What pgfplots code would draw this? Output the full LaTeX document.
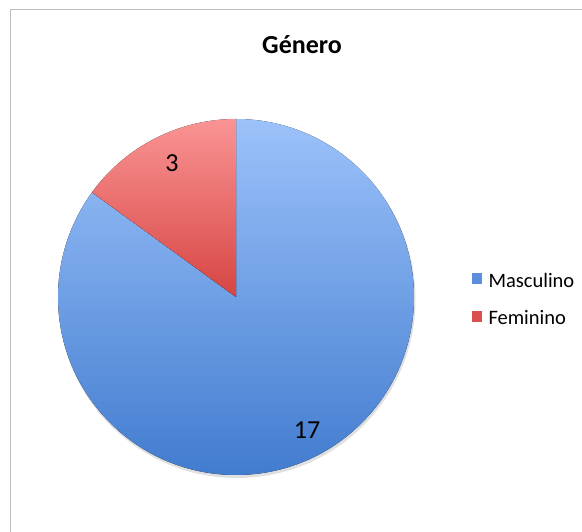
\documentclass[border=0pt]{standalone}
\usepackage{pgfplots}
\usepackage{pgfplotstable}
\pgfplotsset{compat=1.18}
\usepackage{fontspec}
\setmainfont{Carlito}
\definecolor{blueTop}{HTML}{9CC2FA}
\definecolor{blueBot}{HTML}{427CCF}
\definecolor{redTop}{HTML}{FA9494}
\definecolor{redBot}{HTML}{D64543}
\definecolor{legBlue}{HTML}{5C8FDB}
\definecolor{legRed}{HTML}{D9504E}
\definecolor{frame}{HTML}{BDBDBD}
\pgfplotstableread{
label value
Masculino 17
Feminino 3
}\piedata
\begin{document}
\begin{tikzpicture}
\pgfplotstablegetelem{0}{value}\of\piedata \let\vM\pgfplotsretval
\pgfplotstablegetelem{1}{value}\of\piedata \let\vF\pgfplotsretval
\pgfmathsetmacro{\aF}{360*\vF/(\vM+\vF)}
\begin{axis}[
  scale only axis, width=582pt, height=532pt,
  xmin=0, xmax=582, ymin=0, ymax=532,
  hide axis, clip=true,
]
% frame
\draw[frame, line width=1.2pt] (axis cs:10.5,0) -- (axis cs:10.5,522.5) -- (axis cs:582,522.5);
% title
\node[font=\bfseries\fontsize{26}{30}\selectfont] at (axis cs:302,487) {Género};
% shadow
\fill[black, opacity=0.12] (axis cs:237,232.5) circle[radius=178.5pt];
% Masculino slice
\fill[top color=blueTop, bottom color=blueBot]
  (axis cs:236,235) -- ++(90:178pt) arc[start angle=90, end angle={90+\aF-360}, radius=178pt] -- cycle;
% Feminino slice
\fill[top color=redTop, bottom color=redBot, shading angle=0]
  (axis cs:236,235) -- ++(90:178pt) arc[start angle=90, end angle={90+\aF}, radius=178pt] -- cycle;
% labels
\node[font=\fontsize{26}{30}\selectfont] at (axis cs:172,369) {\vF};
\node[font=\fontsize{26}{30}\selectfont] at (axis cs:307,102) {\vM};
% legend
\fill[legBlue] (axis cs:472,248) rectangle (axis cs:482,259);
\node[anchor=west, font=\fontsize{20.5}{24}\selectfont] at (axis cs:485,252) {Masculino};
\fill[legRed] (axis cs:472,210) rectangle (axis cs:482,221);
\node[anchor=west, font=\fontsize{20.5}{24}\selectfont] at (axis cs:485,214) {Feminino};
\end{axis}
\pgfresetboundingbox
\useasboundingbox (current axis.south west) rectangle (current axis.north east);
\end{tikzpicture}
\end{document}
